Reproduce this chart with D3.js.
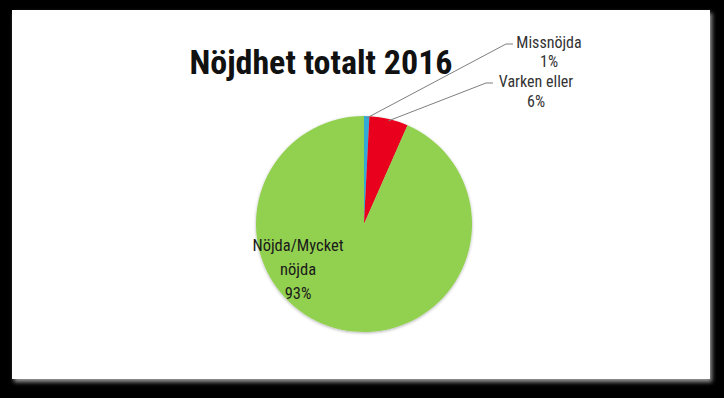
<!DOCTYPE html>
<html>
<head>
<meta charset="utf-8">
<script src="https://cdn.jsdelivr.net/npm/d3@7"></script>
<style>
  body { margin: 0; background: #000; }
  svg { display: block; }
</style>
</head>
<body>
<svg width="724" height="398"></svg>
<script>
var categories = ["Missnöjda", "Varken eller", "Nöjda/Mycket nöjda"];
var values = [0.8, 5.8, 93.4];
var colors = ["#31a9d6", "#e8001c", "#92d050"];

var svg = d3.select("svg"),
    width = +svg.attr("width"),
    height = +svg.attr("height");

var defs = svg.append("defs");
var shadow = defs.append("filter").attr("id", "shadow")
    .attr("x", "-5%").attr("y", "-5%").attr("width", "110%").attr("height", "110%");
shadow.append("feDropShadow")
    .attr("dx", 2).attr("dy", 3).attr("stdDeviation", 2)
    .attr("flood-color", "#9a9a9a").attr("flood-opacity", 1);

var pieShadow = defs.append("filter").attr("id", "pieShadow")
    .attr("x", "-10%").attr("y", "-10%").attr("width", "120%").attr("height", "120%");
pieShadow.append("feDropShadow")
    .attr("dx", 0).attr("dy", 1).attr("stdDeviation", 1.5)
    .attr("flood-color", "#000").attr("flood-opacity", 0.3);

// white chart panel
svg.append("rect")
    .attr("x", 12).attr("y", 10)
    .attr("width", 698).attr("height", 369)
    .attr("fill", "#fff")
    .attr("filter", "url(#shadow)");

svg.append("text")
    .attr("x", 321).attr("y", 74)
    .attr("text-anchor", "middle")
    .style("font-family", "'Liberation Sans Narrow', 'Roboto Condensed', sans-serif")
    .style("font-weight", "bold")
    .style("font-size", "34px")
    .attr("fill", "#111")
    .text("Nöjdhet totalt 2016");

var cx = 364, cy = 224, radius = 108;

var pie = d3.pie().sort(null).value(function(d) { return d; });
var arc = d3.arc().innerRadius(0).outerRadius(radius);
var arcs = pie(values);

var g = svg.append("g").attr("transform", "translate(" + cx + "," + cy + ")");

g.append("g").attr("filter", "url(#pieShadow)")
    .selectAll("path")
    .data(arcs)
    .enter().append("path")
    .attr("d", arc)
    .attr("fill", function(d, i) { return colors[i]; });

var labelFont = "'Liberation Sans Narrow', 'Roboto Condensed', sans-serif";

// outside labels for the two small slices, with leader lines
var outside = [
  { i: 0, lx: 506, ly: 44, tx: 549, lines: [{ t: categories[0], y: 48 }, { t: "1%", y: 67 }] },
  { i: 1, lx: 486, ly: 83, tx: 536, lines: [{ t: categories[1], y: 87 }, { t: "6%", y: 107 }] }
];

outside.forEach(function(o) {
  var a = arcs[o.i];
  var mid = (a.startAngle + a.endAngle) / 2;
  var px = cx + Math.sin(mid) * (radius - 2),
      py = cy - Math.cos(mid) * (radius - 2);
  svg.append("polyline")
     .attr("points", [[px, py], [o.lx, o.ly], [o.lx + 7, o.ly]].join(" "))
     .attr("fill", "none")
     .attr("stroke", "#7f7f7f")
     .attr("stroke-width", 1);
  o.lines.forEach(function(l) {
    svg.append("text")
       .attr("x", o.tx).attr("y", l.y)
       .attr("text-anchor", "middle")
       .style("font-family", labelFont)
       .style("font-size", "16px")
       .attr("fill", "#333")
       .text(l.t);
  });
});

// inside label for the big slice
var inside = ["Nöjda/Mycket", "nöjda", Math.round(values[2]) + "%"];
svg.append("g").selectAll("text")
   .data(inside)
   .enter().append("text")
   .attr("x", 298)
   .attr("y", function(d, i) { return 251 + i * 24; })
   .attr("text-anchor", "middle")
   .style("font-family", labelFont)
   .style("font-size", "16.5px")
   .attr("fill", "#1a1a1a")
   .text(function(d) { return d; });
</script>
</body>
</html>
